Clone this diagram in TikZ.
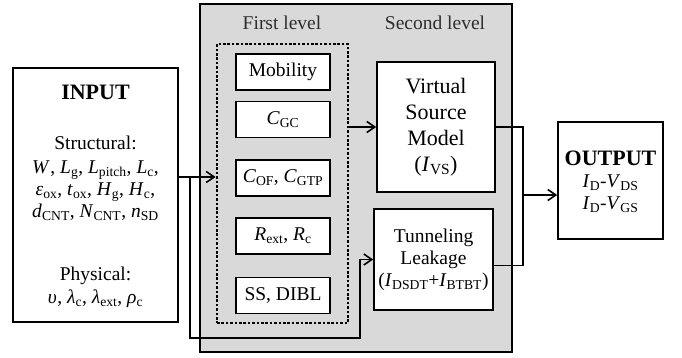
\documentclass[tikz,border=0pt]{standalone}
\usepackage{fontspec}
\setmainfont{Liberation Serif}
\usetikzlibrary{arrows.meta,positioning}
\definecolor{LVgray}{RGB}{217,217,217}
\definecolor{LVtext}{RGB}{45,45,45}
\newcommand{\param}[2]{\textit{#1}\textsubscript{#2}}
\newcommand{\txt}{\fontsize{19.5}{22}\selectfont}
\newcommand{\bigtxt}{\fontsize{22}{26}\selectfont}
\tikzset{
  lvlframe/.style={draw=black,line width=2.4pt,fill=LVgray,minimum width=312pt,minimum height=348pt,inner sep=0pt},
  lvltitle/.style={text=LVtext,font=\txt,inner sep=0pt},
  dotgrp/.style={draw=black,line width=2.8pt,dash pattern=on 2.6pt off 1.8pt,minimum width=131pt,minimum height=279pt,inner sep=0pt},
  subbox/.style={draw=black,line width=1.6pt,fill=white,minimum width=94pt,minimum height=36pt,inner sep=0pt,font=\txt},
  mainbox/.style={draw=black,line width=1.6pt,fill=white,align=center,inner sep=0pt},
  inbox/.style={draw=black,line width=1.6pt,fill=white,inner sep=0pt},
  intext/.style={align=center,inner sep=0pt,font=\txt},
  wire/.style={line width=1.6pt,draw=black},
  fl/.style={-{Straight Barb[length=8pt,width=11pt,line width=1.6pt]},line width=1.6pt,draw=black},
}
\begin{document}
\begin{tikzpicture}[x=1pt,y=-1pt]
    \useasboundingbox (0,0) rectangle (682,358);
    % the two levels
    \node[lvlframe] (frame) at (356,178) {};
    \node[lvltitle] (first) at (282,23) {First level};
    \node[lvltitle] (second) at (435,23) {Second level};
    \node[dotgrp] (grp) at (282.5,183.5) {};
    \node[subbox] (mob) at (283,72) {Mobility};
    \node[subbox] (cgc) at (283,119.5) {\param{C}{GC}};
    \node[subbox] (cof) at (283,178) {\param{C}{OF}, \param{C}{GTP}};
    \node[subbox] (rext) at (283,236) {\param{R}{ext}, \param{R}{c}};
    \node[subbox] (ssd) at (283,295.5) {SS, DIBL};
    \node[mainbox,minimum width=118pt,minimum height=130pt,font=\bigtxt] (vs) at (436,127) {Virtual\\Source\\Model\\(\param{I}{VS})};
    \node[mainbox,minimum width=119pt,minimum height=101pt,font=\txt] (tun) at (433.5,259.5) {Tunneling\\Leakage\\(\param{I}{DSDT}+\param{I}{BTBT})};
    % input and output
    \node[inbox,minimum width=165pt,minimum height=254pt] (input) at (95.5,195) {};
    \node[intext,font=\bigtxt\bfseries] (intitle) at (95.5,92) {INPUT};
    \node[intext] (instruct) at (95.5,178) {Structural:\\[2pt]
      \param{W}{}, \param{L}{g}, \param{L}{pitch}, \param{L}{c},\\
      \param{ε}{ox}, \param{t}{ox}, \param{H}{g}, \param{H}{c},\\
      \param{d}{CNT}, \param{N}{CNT}, \param{n}{SD}};
    \node[intext] (inphys) at (95.5,287) {Physical:\\[1pt]
      \param{υ}{}, \param{λ}{c}, \param{λ}{ext}, \param{ρ}{c}};
    \node[mainbox,minimum width=105pt,minimum height=117pt,font=\txt,text depth=0pt] (output) at (610.5,180.5)
      {{\bigtxt\bfseries OUTPUT}\\\param{I}{D}-\param{V}{DS}\\\param{I}{D}-\param{V}{GS}};
    % connectors
    \coordinate (split) at (190,177);
    \coordinate (under) at (360,338);
    \coordinate (join) at (523,195);
    \draw[fl] (input.east |- split) -- (grp.west |- split);
    \draw[fl] (split) |- (under) |- (tun.west);
    \draw[fl] (grp.east |- vs.west) -- (vs.west);
    \draw[wire] (vs.east) -| (join) |- ([yshift=-6pt]tun.east);
    \draw[fl] (join) -- (output.west |- join);
\end{tikzpicture}
\end{document}
